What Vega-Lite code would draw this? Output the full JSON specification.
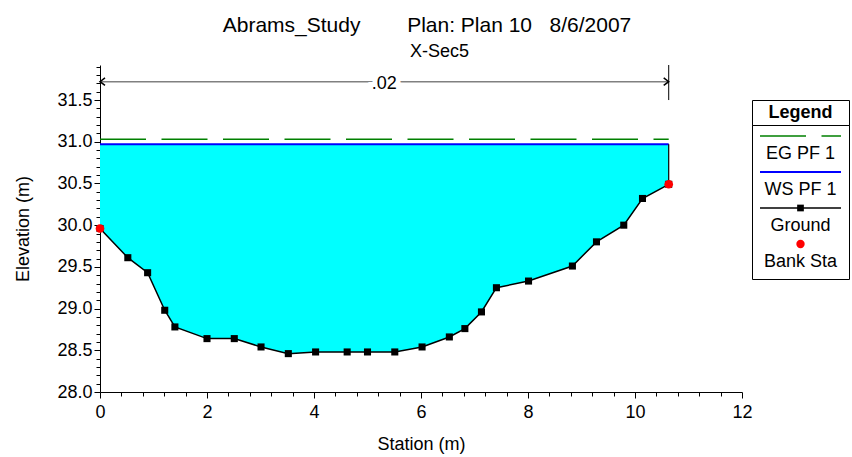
{
  "$schema": "https://vega.github.io/schema/vega-lite/v6.json",
  "padding": {"left": 14, "top": 14, "right": 3, "bottom": 2},
  "config": {
    "font": "Liberation Sans",
    "view": {"stroke": null},
    "axis": {
      "domainColor": "black", "tickColor": "black", "labelColor": "black", "titleColor": "black",
      "labelFontSize": 18, "titleFontSize": 18, "titleFontWeight": "normal",
      "grid": false, "domainWidth": 1, "tickWidth": 1, "labelOverlap": false, "labelFlush": false
    }
  },
  "datasets": {
    "ground": [
      {"station": 0, "elev": 29.96, "bank": true},
      {"station": 0.52, "elev": 29.61, "bank": false},
      {"station": 0.89, "elev": 29.43, "bank": false},
      {"station": 1.21, "elev": 28.98, "bank": false},
      {"station": 1.40, "elev": 28.78, "bank": false},
      {"station": 2.0, "elev": 28.64, "bank": false},
      {"station": 2.51, "elev": 28.64, "bank": false},
      {"station": 3.01, "elev": 28.54, "bank": false},
      {"station": 3.52, "elev": 28.46, "bank": false},
      {"station": 4.03, "elev": 28.48, "bank": false},
      {"station": 4.62, "elev": 28.48, "bank": false},
      {"station": 5.0, "elev": 28.48, "bank": false},
      {"station": 5.51, "elev": 28.48, "bank": false},
      {"station": 6.02, "elev": 28.54, "bank": false},
      {"station": 6.53, "elev": 28.66, "bank": false},
      {"station": 6.82, "elev": 28.76, "bank": false},
      {"station": 7.13, "elev": 28.96, "bank": false},
      {"station": 7.41, "elev": 29.25, "bank": false},
      {"station": 8.01, "elev": 29.33, "bank": false},
      {"station": 8.83, "elev": 29.51, "bank": false},
      {"station": 9.28, "elev": 29.80, "bank": false},
      {"station": 9.79, "elev": 30.00, "bank": false},
      {"station": 10.14, "elev": 30.32, "bank": false},
      {"station": 10.63, "elev": 30.49, "bank": true}
    ],
    "levels": [
      {"profile": "EG PF 1", "elev": 31.03, "start": 0, "end": 10.63},
      {"profile": "WS PF 1", "elev": 30.97, "start": 0, "end": 10.63}
    ],
    "manning": [
      {"n": ".02", "start": 0, "end": 10.63}
    ],
    "legend": [
      {"item": "EG PF 1"},
      {"item": "WS PF 1"},
      {"item": "Ground"},
      {"item": "Bank Sta"}
    ]
  },
  "bounds": "flush",
  "align": "none",
  "spacing": 10,
  "hconcat": [
    {
      "width": 642,
      "height": 327,
      "title": {
        "text": "Abrams_Study\u00a0\u00a0\u00a0\u00a0\u00a0\u00a0\u00a0\u00a0Plan: Plan 10\u00a0\u00a0\u00a08/6/2007",
        "subtitle": "\u200b\u00a0\u00a0\u00a0\u00a0\u00a0X-Sec5",
        "anchor": "middle",
        "frame": "group",
        "dx": 6,
        "fontSize": 21,
        "fontWeight": "normal",
        "color": "black",
        "subtitleFontSize": 18,
        "subtitleColor": "black",
        "subtitlePadding": 7,
        "offset": -3
      },
      "layer": [
        {
          "data": {"name": "ground"},
          "mark": {"type": "area", "color": "#00FFFF", "opacity": 1},
          "encoding": {
            "x": {
              "field": "station", "type": "quantitative", "title": "Station (m)",
              "scale": {"domain": [0, 12], "nice": false, "zero": false},
              "axis": {
                "values": [0,0.4,0.8,1.2,1.6,2,2.4,2.8,3.2,3.6,4,4.4,4.8,5.2,5.6,6,6.4,6.8,7.2,7.6,8,8.4,8.8,9.2,9.6,10,10.4,10.8,11.2,11.6,12],
                "tickCount": 200,
                "labelExpr": "abs(datum.value/2 - round(datum.value/2)) < 0.001 ? format(datum.value, 'd') : ''",
                "tickSize": {"condition": {"test": "abs(datum.value/2 - round(datum.value/2)) < 0.001", "value": 6}, "value": 4},
                "labelOverlap": false,
                "labelBound": false,
                "labelFlush": false,
                "labelPadding": 5,
                "titlePadding": 14
              }
            },
            "y": {
              "field": "elev", "type": "quantitative", "title": "Elevation (m)",
              "scale": {"domain": [28, 31.92], "nice": false, "zero": false},
              "axis": {
                "values": [28,28.1,28.2,28.3,28.4,28.5,28.6,28.7,28.8,28.9,29,29.1,29.2,29.3,29.4,29.5,29.6,29.7,29.8,29.9,30,30.1,30.2,30.3,30.4,30.5,30.6,30.7,30.8,30.9,31,31.1,31.2,31.3,31.4,31.5,31.6,31.7,31.8,31.9],
                "tickCount": 200,
                "labelExpr": "abs(datum.value*2 - round(datum.value*2)) < 0.001 ? format(datum.value, '.1f') : ''",
                "tickSize": {"condition": {"test": "abs(datum.value*2 - round(datum.value*2)) < 0.001", "value": 6}, "value": 4},
                "labelOverlap": false,
                "labelBound": false,
                "labelFlush": false,
                "labelPadding": 2,
                "titlePadding": 24
              }
            },
            "y2": {"datum": 30.97}
          }
        },
        {
          "data": {"name": "levels"},
          "transform": [{"filter": "datum.profile === 'EG PF 1'"}],
          "mark": {"type": "rule", "color": "#008000", "strokeWidth": 1.5, "strokeDash": [46, 15.5]},
          "encoding": {
            "x": {"field": "start", "type": "quantitative", "title": "Station (m)"},
            "x2": {"field": "end"},
            "y": {"field": "elev", "type": "quantitative", "title": "Elevation (m)"}
          }
        },
        {
          "data": {"name": "levels"},
          "transform": [{"filter": "datum.profile === 'WS PF 1'"}],
          "mark": {"type": "rule", "color": "#0000FF", "strokeWidth": 2},
          "encoding": {
            "x": {"field": "start", "type": "quantitative", "title": "Station (m)"},
            "x2": {"field": "end"},
            "y": {"field": "elev", "type": "quantitative", "title": "Elevation (m)"}
          }
        },
        {
          "data": {"name": "levels"},
          "transform": [{"filter": "datum.profile === 'WS PF 1'"}],
          "mark": {"type": "rule", "color": "black", "strokeWidth": 1.2},
          "encoding": {
            "x": {"field": "end", "type": "quantitative", "title": "Station (m)"},
            "y": {"field": "elev", "type": "quantitative", "title": "Elevation (m)"},
            "y2": {"datum": 30.49}
          }
        },
        {
          "data": {"name": "ground"},
          "mark": {"type": "line", "color": "black", "strokeWidth": 1.5},
          "encoding": {
            "x": {"field": "station", "type": "quantitative", "title": "Station (m)"},
            "y": {"field": "elev", "type": "quantitative", "title": "Elevation (m)"}
          }
        },
        {
          "data": {"name": "ground"},
          "mark": {"type": "point", "shape": "square", "size": 50, "filled": true, "color": "black", "opacity": 1},
          "encoding": {
            "x": {"field": "station", "type": "quantitative", "title": "Station (m)"},
            "y": {"field": "elev", "type": "quantitative", "title": "Elevation (m)"}
          }
        },
        {
          "data": {"name": "ground"},
          "transform": [{"filter": "datum.bank"}],
          "mark": {"type": "point", "shape": "circle", "size": 75, "filled": true, "color": "#FF0000", "opacity": 1},
          "encoding": {
            "x": {"field": "station", "type": "quantitative", "title": "Station (m)"},
            "y": {"field": "elev", "type": "quantitative", "title": "Elevation (m)"}
          }
        },
        {
          "data": {"name": "manning"},
          "mark": {"type": "rule", "color": "#808080", "strokeWidth": 1.5},
          "encoding": {
            "x": {"field": "start", "type": "quantitative", "title": "Station (m)"},
            "x2": {"field": "end"},
            "y": {"datum": 31.72}
          }
        },
        {
          "data": {"name": "manning"},
          "mark": {"type": "rule", "color": "black", "strokeWidth": 1},
          "encoding": {
            "x": {"field": "end", "type": "quantitative", "title": "Station (m)"},
            "y": {"datum": 31.5},
            "y2": {"datum": 31.92}
          }
        },
        {
          "data": {"name": "manning"},
          "mark": {"type": "point", "shape": "M1,-0.75L0,0L1,0.75", "size": 100, "filled": false, "stroke": "black", "strokeWidth": 1.5, "opacity": 1},
          "encoding": {
            "x": {"field": "start", "type": "quantitative", "title": "Station (m)"},
            "y": {"datum": 31.72}
          }
        },
        {
          "data": {"name": "manning"},
          "mark": {"type": "point", "shape": "M-1,-0.75L0,0L-1,0.75", "size": 100, "filled": false, "stroke": "black", "strokeWidth": 1.5, "opacity": 1},
          "encoding": {
            "x": {"field": "end", "type": "quantitative", "title": "Station (m)"},
            "y": {"datum": 31.72}
          }
        },
        {
          "data": {"name": "manning"},
          "transform": [{"calculate": "(datum.start + datum.end) / 2", "as": "mid"}],
          "mark": {"type": "text", "fontSize": 18, "fill": "white", "stroke": "white", "strokeWidth": 10, "dy": 2},
          "encoding": {
            "x": {"field": "mid", "type": "quantitative", "title": "Station (m)"},
            "y": {"datum": 31.72},
            "text": {"field": "n"}
          }
        },
        {
          "data": {"name": "manning"},
          "transform": [{"calculate": "(datum.start + datum.end) / 2", "as": "mid"}],
          "mark": {"type": "text", "fontSize": 18, "color": "black", "dy": 2},
          "encoding": {
            "x": {"field": "mid", "type": "quantitative", "title": "Station (m)"},
            "y": {"datum": 31.72},
            "text": {"field": "n"}
          }
        }
      ]
    },
    {
      "spacing": 0,
      "bounds": "flush",
      "align": "none",
      "vconcat": [
        {
          "width": 97,
          "height": 35,
          "data": {"values": [{"label": ""}]},
          "mark": {"type": "text"},
          "encoding": {"text": {"field": "label"}},
          "view": {"stroke": null}
        },
        {
          "width": 97,
          "height": 25,
          "data": {"values": [{"label": "Legend"}]},
          "mark": {"type": "text", "fontSize": 18, "fontWeight": "bold", "color": "black"},
          "encoding": {"text": {"field": "label"}},
          "view": {"stroke": "black", "strokeWidth": 1}
        },
        {
          "width": 97,
          "height": 154,
          "data": {"name": "legend"},
          "view": {"stroke": "black", "strokeWidth": 1},
          "encoding": {
            "y": {
              "field": "item", "type": "nominal", "axis": null,
              "scale": {"type": "band", "domain": ["EG PF 1", "WS PF 1", "Ground", "Bank Sta"], "paddingInner": 0, "paddingOuter": 0.139, "align": 0}
            }
          },
          "layer": [
            {
              "mark": {"type": "text", "fontSize": 18, "color": "black", "yOffset": 11},
              "encoding": {"text": {"field": "item"}}
            },
            {
              "transform": [{"filter": "datum.item === 'EG PF 1'"}],
              "mark": {"type": "point", "shape": "M-1,0L1,0", "size": 6561, "filled": false, "stroke": "#008000", "strokeWidth": 1.5, "strokeDash": [46, 15.5], "opacity": 1, "yOffset": -7}
            },
            {
              "transform": [{"filter": "datum.item === 'WS PF 1'"}],
              "mark": {"type": "point", "shape": "M-1,0L1,0", "size": 6561, "filled": false, "stroke": "#0000FF", "strokeWidth": 2, "opacity": 1, "yOffset": -7}
            },
            {
              "transform": [{"filter": "datum.item === 'Ground'"}],
              "mark": {"type": "point", "shape": "M-1,0L1,0", "size": 6561, "filled": false, "stroke": "black", "strokeWidth": 1.5, "opacity": 1, "yOffset": -7}
            },
            {
              "transform": [{"filter": "datum.item === 'Ground'"}],
              "mark": {"type": "point", "shape": "square", "size": 45, "filled": true, "color": "black", "opacity": 1, "yOffset": -7}
            },
            {
              "transform": [{"filter": "datum.item === 'Bank Sta'"}],
              "mark": {"type": "point", "shape": "circle", "size": 70, "filled": true, "color": "#FF0000", "opacity": 1, "yOffset": -7}
            }
          ]
        }
      ]
    }
  ]
}
